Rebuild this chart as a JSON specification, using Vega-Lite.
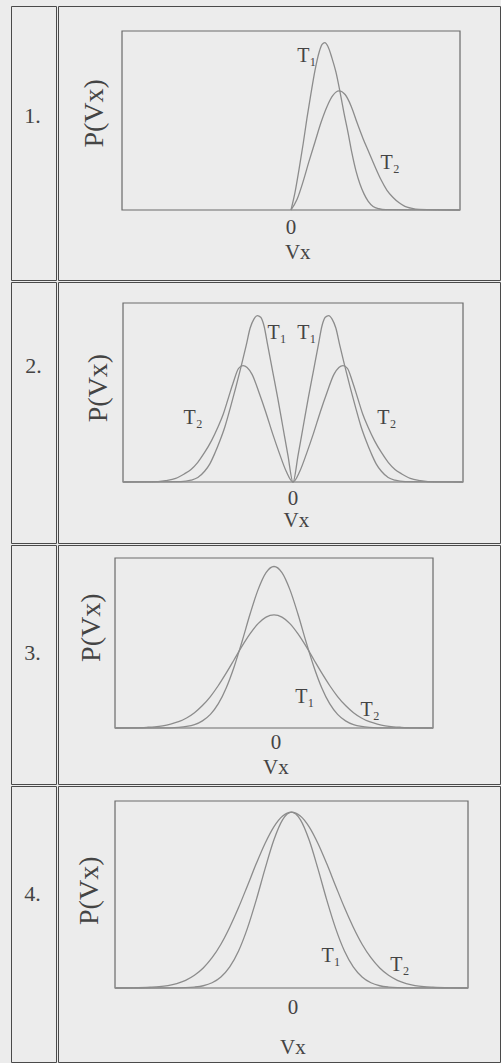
{
  "$schema": "https://vega.github.io/schema/vega-lite/v6.json",
  "background": "#ececec",
  "padding": {"left": 10, "top": 5, "right": 0, "bottom": 0},
  "spacing": 0,
  "config": {
    "view": {"stroke": "#4a4a4a", "strokeWidth": 1},
    "concat": {"spacing": 0},
    "text": {"font": "Liberation Serif, DejaVu Serif, serif", "color": "#444444"}
  },
  "datasets": {
    "r1": [
      {"s":"T1","v":0,"p":0},{"s":"T1","v":0.12,"p":0.1},{"s":"T1","v":0.24,"p":0.23},{"s":"T1","v":0.36,"p":0.37},{"s":"T1","v":0.47,"p":0.51},{"s":"T1","v":0.59,"p":0.65},{"s":"T1","v":0.71,"p":0.78},{"s":"T1","v":0.83,"p":0.88},{"s":"T1","v":0.92,"p":0.925},{"s":"T1","v":1.0,"p":0.935},{"s":"T1","v":1.09,"p":0.915},{"s":"T1","v":1.21,"p":0.85},{"s":"T1","v":1.33,"p":0.77},{"s":"T1","v":1.45,"p":0.66},{"s":"T1","v":1.57,"p":0.54},{"s":"T1","v":1.69,"p":0.43},{"s":"T1","v":1.8,"p":0.32},{"s":"T1","v":1.92,"p":0.22},{"s":"T1","v":2.04,"p":0.145},{"s":"T1","v":2.16,"p":0.09},{"s":"T1","v":2.28,"p":0.05},{"s":"T1","v":2.43,"p":0.02},{"s":"T1","v":2.6,"p":0.007},{"s":"T1","v":2.8,"p":0.002},{"s":"T1","v":5,"p":0},
      {"s":"T2","v":0,"p":0},{"s":"T2","v":0.18,"p":0.06},{"s":"T2","v":0.36,"p":0.16},{"s":"T2","v":0.53,"p":0.27},{"s":"T2","v":0.71,"p":0.38},{"s":"T2","v":0.89,"p":0.49},{"s":"T2","v":1.07,"p":0.58},{"s":"T2","v":1.24,"p":0.64},{"s":"T2","v":1.42,"p":0.665},{"s":"T2","v":1.6,"p":0.645},{"s":"T2","v":1.78,"p":0.58},{"s":"T2","v":1.95,"p":0.49},{"s":"T2","v":2.13,"p":0.4},{"s":"T2","v":2.31,"p":0.32},{"s":"T2","v":2.49,"p":0.24},{"s":"T2","v":2.66,"p":0.17},{"s":"T2","v":2.84,"p":0.11},{"s":"T2","v":3.02,"p":0.07},{"s":"T2","v":3.2,"p":0.04},{"s":"T2","v":3.37,"p":0.02},{"s":"T2","v":3.55,"p":0.01},{"s":"T2","v":3.79,"p":0.003},{"s":"T2","v":5,"p":0}
    ],
    "r2": [
      {"s":"T1","v":-5,"p":0},{"s":"T1","v":-3.3,"p":0.002},{"s":"T1","v":-3.0,"p":0.01},{"s":"T1","v":-2.8,"p":0.025},{"s":"T1","v":-2.6,"p":0.06},{"s":"T1","v":-2.45,"p":0.1},{"s":"T1","v":-2.3,"p":0.16},{"s":"T1","v":-2.15,"p":0.23},{"s":"T1","v":-2.0,"p":0.31},{"s":"T1","v":-1.85,"p":0.41},{"s":"T1","v":-1.68,"p":0.53},{"s":"T1","v":-1.52,"p":0.65},{"s":"T1","v":-1.38,"p":0.76},{"s":"T1","v":-1.26,"p":0.86},{"s":"T1","v":-1.15,"p":0.91},{"s":"T1","v":-1.05,"p":0.93},{"s":"T1","v":-0.95,"p":0.92},{"s":"T1","v":-0.85,"p":0.87},{"s":"T1","v":-0.75,"p":0.77},{"s":"T1","v":-0.6,"p":0.62},{"s":"T1","v":-0.45,"p":0.47},{"s":"T1","v":-0.3,"p":0.31},{"s":"T1","v":-0.15,"p":0.15},
      {"s":"T1","v":0,"p":0},{"s":"T1","v":0.15,"p":0.15},{"s":"T1","v":0.3,"p":0.31},{"s":"T1","v":0.45,"p":0.47},{"s":"T1","v":0.6,"p":0.62},{"s":"T1","v":0.75,"p":0.77},{"s":"T1","v":0.85,"p":0.87},{"s":"T1","v":0.95,"p":0.92},{"s":"T1","v":1.05,"p":0.93},{"s":"T1","v":1.15,"p":0.91},{"s":"T1","v":1.26,"p":0.86},{"s":"T1","v":1.38,"p":0.76},{"s":"T1","v":1.52,"p":0.65},{"s":"T1","v":1.68,"p":0.53},{"s":"T1","v":1.85,"p":0.41},{"s":"T1","v":2.0,"p":0.31},{"s":"T1","v":2.15,"p":0.23},{"s":"T1","v":2.3,"p":0.16},{"s":"T1","v":2.45,"p":0.1},{"s":"T1","v":2.6,"p":0.06},{"s":"T1","v":2.8,"p":0.025},{"s":"T1","v":3.0,"p":0.01},{"s":"T1","v":3.3,"p":0.002},{"s":"T1","v":5,"p":0},
      {"s":"T2","v":-5,"p":0},{"s":"T2","v":-4.2,"p":0.001},{"s":"T2","v":-3.75,"p":0.008},{"s":"T2","v":-3.45,"p":0.02},{"s":"T2","v":-3.2,"p":0.045},{"s":"T2","v":-3.0,"p":0.07},{"s":"T2","v":-2.8,"p":0.11},{"s":"T2","v":-2.6,"p":0.165},{"s":"T2","v":-2.4,"p":0.23},{"s":"T2","v":-2.2,"p":0.31},{"s":"T2","v":-2.05,"p":0.38},{"s":"T2","v":-1.9,"p":0.47},{"s":"T2","v":-1.75,"p":0.56},{"s":"T2","v":-1.6,"p":0.635},{"s":"T2","v":-1.47,"p":0.65},{"s":"T2","v":-1.35,"p":0.64},{"s":"T2","v":-1.2,"p":0.6},{"s":"T2","v":-1.0,"p":0.5},{"s":"T2","v":-0.8,"p":0.39},{"s":"T2","v":-0.6,"p":0.27},{"s":"T2","v":-0.4,"p":0.16},{"s":"T2","v":-0.2,"p":0.06},
      {"s":"T2","v":0,"p":0},{"s":"T2","v":0.2,"p":0.06},{"s":"T2","v":0.4,"p":0.16},{"s":"T2","v":0.6,"p":0.27},{"s":"T2","v":0.8,"p":0.39},{"s":"T2","v":1.0,"p":0.5},{"s":"T2","v":1.2,"p":0.6},{"s":"T2","v":1.35,"p":0.64},{"s":"T2","v":1.47,"p":0.65},{"s":"T2","v":1.6,"p":0.635},{"s":"T2","v":1.75,"p":0.56},{"s":"T2","v":1.9,"p":0.47},{"s":"T2","v":2.05,"p":0.38},{"s":"T2","v":2.2,"p":0.31},{"s":"T2","v":2.4,"p":0.23},{"s":"T2","v":2.6,"p":0.165},{"s":"T2","v":2.8,"p":0.11},{"s":"T2","v":3.0,"p":0.07},{"s":"T2","v":3.2,"p":0.045},{"s":"T2","v":3.45,"p":0.02},{"s":"T2","v":3.75,"p":0.008},{"s":"T2","v":4.2,"p":0.001},{"s":"T2","v":5,"p":0}
    ],
    "r3": [
      {"s":"T1","v":-5,"p":0},{"s":"T1","v":-3.5,"p":0.0005},{"s":"T1","v":-3,"p":0.004},{"s":"T1","v":-2.75,"p":0.009},{"s":"T1","v":-2.5,"p":0.02},{"s":"T1","v":-2.25,"p":0.042},{"s":"T1","v":-2,"p":0.08},{"s":"T1","v":-1.75,"p":0.143},{"s":"T1","v":-1.5,"p":0.237},{"s":"T1","v":-1.25,"p":0.362},{"s":"T1","v":-1,"p":0.512},{"s":"T1","v":-0.75,"p":0.672},{"s":"T1","v":-0.5,"p":0.814},{"s":"T1","v":-0.25,"p":0.914},{"s":"T1","v":0,"p":0.95},
      {"s":"T1","v":0.25,"p":0.914},{"s":"T1","v":0.5,"p":0.814},{"s":"T1","v":0.75,"p":0.672},{"s":"T1","v":1,"p":0.512},{"s":"T1","v":1.25,"p":0.362},{"s":"T1","v":1.5,"p":0.237},{"s":"T1","v":1.75,"p":0.143},{"s":"T1","v":2,"p":0.08},{"s":"T1","v":2.25,"p":0.042},{"s":"T1","v":2.5,"p":0.02},{"s":"T1","v":2.75,"p":0.009},{"s":"T1","v":3,"p":0.004},{"s":"T1","v":3.5,"p":0.0005},{"s":"T1","v":5,"p":0},
      {"s":"T2","v":-5,"p":0},{"s":"T2","v":-4.5,"p":0.001},{"s":"T2","v":-4,"p":0.004},{"s":"T2","v":-3.75,"p":0.007},{"s":"T2","v":-3.5,"p":0.013},{"s":"T2","v":-3.25,"p":0.023},{"s":"T2","v":-3,"p":0.037},{"s":"T2","v":-2.75,"p":0.059},{"s":"T2","v":-2.5,"p":0.09},{"s":"T2","v":-2.25,"p":0.132},{"s":"T2","v":-2,"p":0.185},{"s":"T2","v":-1.75,"p":0.25},{"s":"T2","v":-1.5,"p":0.324},{"s":"T2","v":-1.25,"p":0.403},{"s":"T2","v":-1,"p":0.483},{"s":"T2","v":-0.75,"p":0.555},{"s":"T2","v":-0.5,"p":0.614},{"s":"T2","v":-0.25,"p":0.652},{"s":"T2","v":0,"p":0.665},
      {"s":"T2","v":0.25,"p":0.652},{"s":"T2","v":0.5,"p":0.614},{"s":"T2","v":0.75,"p":0.555},{"s":"T2","v":1,"p":0.483},{"s":"T2","v":1.25,"p":0.403},{"s":"T2","v":1.5,"p":0.324},{"s":"T2","v":1.75,"p":0.25},{"s":"T2","v":2,"p":0.185},{"s":"T2","v":2.25,"p":0.132},{"s":"T2","v":2.5,"p":0.09},{"s":"T2","v":2.75,"p":0.059},{"s":"T2","v":3,"p":0.037},{"s":"T2","v":3.25,"p":0.023},{"s":"T2","v":3.5,"p":0.013},{"s":"T2","v":3.75,"p":0.007},{"s":"T2","v":4,"p":0.004},{"s":"T2","v":4.5,"p":0.001},{"s":"T2","v":5,"p":0}
    ],
    "r4": [
      {"s":"T1","v":-5,"p":0},{"s":"T1","v":-3.5,"p":0.0002},{"s":"T1","v":-3,"p":0.002},{"s":"T1","v":-2.75,"p":0.005},{"s":"T1","v":-2.5,"p":0.012},{"s":"T1","v":-2.25,"p":0.028},{"s":"T1","v":-2,"p":0.059},{"s":"T1","v":-1.75,"p":0.113},{"s":"T1","v":-1.5,"p":0.198},{"s":"T1","v":-1.25,"p":0.319},{"s":"T1","v":-1,"p":0.47},{"s":"T1","v":-0.75,"p":0.637},{"s":"T1","v":-0.5,"p":0.791},{"s":"T1","v":-0.25,"p":0.9},{"s":"T1","v":0,"p":0.94},
      {"s":"T1","v":0.25,"p":0.9},{"s":"T1","v":0.5,"p":0.791},{"s":"T1","v":0.75,"p":0.637},{"s":"T1","v":1,"p":0.47},{"s":"T1","v":1.25,"p":0.319},{"s":"T1","v":1.5,"p":0.198},{"s":"T1","v":1.75,"p":0.113},{"s":"T1","v":2,"p":0.059},{"s":"T1","v":2.25,"p":0.028},{"s":"T1","v":2.5,"p":0.012},{"s":"T1","v":2.75,"p":0.005},{"s":"T1","v":3,"p":0.002},{"s":"T1","v":3.5,"p":0.0002},{"s":"T1","v":5,"p":0},
      {"s":"T2","v":-5,"p":0},{"s":"T2","v":-4.5,"p":0.001},{"s":"T2","v":-4,"p":0.004},{"s":"T2","v":-3.75,"p":0.007},{"s":"T2","v":-3.5,"p":0.013},{"s":"T2","v":-3.25,"p":0.024},{"s":"T2","v":-3,"p":0.041},{"s":"T2","v":-2.75,"p":0.068},{"s":"T2","v":-2.5,"p":0.107},{"s":"T2","v":-2.25,"p":0.162},{"s":"T2","v":-2,"p":0.234},{"s":"T2","v":-1.75,"p":0.325},{"s":"T2","v":-1.5,"p":0.43},{"s":"T2","v":-1.25,"p":0.546},{"s":"T2","v":-1,"p":0.664},{"s":"T2","v":-0.75,"p":0.773},{"s":"T2","v":-0.5,"p":0.862},{"s":"T2","v":-0.25,"p":0.92},{"s":"T2","v":0,"p":0.94},
      {"s":"T2","v":0.25,"p":0.92},{"s":"T2","v":0.5,"p":0.862},{"s":"T2","v":0.75,"p":0.773},{"s":"T2","v":1,"p":0.664},{"s":"T2","v":1.25,"p":0.546},{"s":"T2","v":1.5,"p":0.43},{"s":"T2","v":1.75,"p":0.325},{"s":"T2","v":2,"p":0.234},{"s":"T2","v":2.25,"p":0.162},{"s":"T2","v":2.5,"p":0.107},{"s":"T2","v":2.75,"p":0.068},{"s":"T2","v":3,"p":0.041},{"s":"T2","v":3.25,"p":0.024},{"s":"T2","v":3.5,"p":0.013},{"s":"T2","v":3.75,"p":0.007},{"s":"T2","v":4,"p":0.004},{"s":"T2","v":4.5,"p":0.001},{"s":"T2","v":5,"p":0}
    ]
  },
  "vconcat": [
    {
      "spacing": 0,
      "hconcat": [
        {
          "width": 45, "height": 274,
          "data": {"values": [{"label": "1.", "fx": 0.48, "fy": 0.4}]},
          "mark": {"type": "text", "fontSize": 22},
          "encoding": {
            "x": {"field": "fx", "type": "quantitative", "scale": {"domain": [0, 1]}, "axis": null},
            "y": {"field": "fy", "type": "quantitative", "scale": {"domain": [0, 1], "reverse": true}, "axis": null},
            "text": {"field": "label"}
          }
        },
        {
          "width": 442, "height": 274,
          "layer": [
            {
              "data": {"values": [{"v": -5, "v2": 5, "p": 0, "p2": 1}]},
              "mark": {"type": "rect", "fill": null, "stroke": "#6a6a6a", "strokeWidth": 1.2},
              "encoding": {
                "x": {"field": "v", "type": "quantitative", "scale": {"domain": [-5, 5], "range": [64, 402], "nice": false, "zero": false}, "axis": null},
                "x2": {"field": "v2"},
                "y": {"field": "p", "type": "quantitative", "scale": {"domain": [0, 1], "range": [204, 25], "nice": false, "zero": false}, "axis": null},
                "y2": {"field": "p2"}
              }
            },
            {
              "data": {"name": "r1"},
              "mark": {"type": "line", "interpolate": "monotone", "color": "#8c8c8c", "strokeWidth": 1.3},
              "encoding": {
                "x": {"field": "v", "type": "quantitative", "axis": null},
                "y": {"field": "p", "type": "quantitative", "axis": null},
                "detail": {"field": "s"}
              }
            },
            {
              "data": {"values": [{"t": "T₁", "v": 0.47, "p": 0.86}, {"t": "T₂", "v": 2.93, "p": 0.26}]},
              "mark": {"type": "text", "fontSize": 20},
              "encoding": {"x": {"field": "v", "type": "quantitative", "axis": null}, "y": {"field": "p", "type": "quantitative", "axis": null}, "text": {"field": "t"}}
            },
            {
              "data": {"values": [{"t": "0", "v": 0, "p": -0.1}, {"t": "Vx", "v": 0.2, "p": -0.24}]},
              "mark": {"type": "text", "fontSize": 21},
              "encoding": {"x": {"field": "v", "type": "quantitative", "axis": null}, "y": {"field": "p", "type": "quantitative", "axis": null}, "text": {"field": "t"}}
            },
            {
              "data": {"values": [{"t": "P(Vx)", "v": -5.8, "p": 0.54}]},
              "mark": {"type": "text", "fontSize": 28, "angle": 270},
              "encoding": {"x": {"field": "v", "type": "quantitative", "axis": null}, "y": {"field": "p", "type": "quantitative", "axis": null}, "text": {"field": "t"}}
            }
          ]
        }
      ]
    },
    {
      "spacing": 0,
      "hconcat": [
        {
          "width": 45, "height": 261,
          "data": {"values": [{"label": "2.", "fx": 0.5, "fy": 0.32}]},
          "mark": {"type": "text", "fontSize": 22},
          "encoding": {
            "x": {"field": "fx", "type": "quantitative", "scale": {"domain": [0, 1]}, "axis": null},
            "y": {"field": "fy", "type": "quantitative", "scale": {"domain": [0, 1], "reverse": true}, "axis": null},
            "text": {"field": "label"}
          }
        },
        {
          "width": 442, "height": 261,
          "layer": [
            {
              "data": {"values": [{"v": -5, "v2": 5, "p": 0, "p2": 1}]},
              "mark": {"type": "rect", "fill": null, "stroke": "#6a6a6a", "strokeWidth": 1.2},
              "encoding": {
                "x": {"field": "v", "type": "quantitative", "scale": {"domain": [-5, 5], "range": [65, 405], "nice": false, "zero": false}, "axis": null},
                "x2": {"field": "v2"},
                "y": {"field": "p", "type": "quantitative", "scale": {"domain": [0, 1], "range": [200, 21], "nice": false, "zero": false}, "axis": null},
                "y2": {"field": "p2"}
              }
            },
            {
              "data": {"name": "r2"},
              "mark": {"type": "line", "interpolate": "monotone", "color": "#8c8c8c", "strokeWidth": 1.3},
              "encoding": {
                "x": {"field": "v", "type": "quantitative", "axis": null},
                "y": {"field": "p", "type": "quantitative", "axis": null},
                "detail": {"field": "s"}
              }
            },
            {
              "data": {"values": [{"t": "T₁", "v": -0.47, "p": 0.83}, {"t": "T₁", "v": 0.41, "p": 0.83}, {"t": "T₂", "v": -2.94, "p": 0.36}, {"t": "T₂", "v": 2.76, "p": 0.36}]},
              "mark": {"type": "text", "fontSize": 20},
              "encoding": {"x": {"field": "v", "type": "quantitative", "axis": null}, "y": {"field": "p", "type": "quantitative", "axis": null}, "text": {"field": "t"}}
            },
            {
              "data": {"values": [{"t": "0", "v": 0, "p": -0.095}, {"t": "Vx", "v": 0.1, "p": -0.22}]},
              "mark": {"type": "text", "fontSize": 21},
              "encoding": {"x": {"field": "v", "type": "quantitative", "axis": null}, "y": {"field": "p", "type": "quantitative", "axis": null}, "text": {"field": "t"}}
            },
            {
              "data": {"values": [{"t": "P(Vx)", "v": -5.7, "p": 0.525}]},
              "mark": {"type": "text", "fontSize": 28, "angle": 270},
              "encoding": {"x": {"field": "v", "type": "quantitative", "axis": null}, "y": {"field": "p", "type": "quantitative", "axis": null}, "text": {"field": "t"}}
            }
          ]
        }
      ]
    },
    {
      "spacing": 0,
      "hconcat": [
        {
          "width": 45, "height": 239,
          "data": {"values": [{"label": "3.", "fx": 0.48, "fy": 0.45}]},
          "mark": {"type": "text", "fontSize": 22},
          "encoding": {
            "x": {"field": "fx", "type": "quantitative", "scale": {"domain": [0, 1]}, "axis": null},
            "y": {"field": "fy", "type": "quantitative", "scale": {"domain": [0, 1], "reverse": true}, "axis": null},
            "text": {"field": "label"}
          }
        },
        {
          "width": 442, "height": 239,
          "layer": [
            {
              "data": {"values": [{"v": -5, "v2": 5, "p": 0, "p2": 1}]},
              "mark": {"type": "rect", "fill": null, "stroke": "#6a6a6a", "strokeWidth": 1.2},
              "encoding": {
                "x": {"field": "v", "type": "quantitative", "scale": {"domain": [-5, 5], "range": [57, 375], "nice": false, "zero": false}, "axis": null},
                "x2": {"field": "v2"},
                "y": {"field": "p", "type": "quantitative", "scale": {"domain": [0, 1], "range": [183, 13], "nice": false, "zero": false}, "axis": null},
                "y2": {"field": "p2"}
              }
            },
            {
              "data": {"name": "r3"},
              "mark": {"type": "line", "interpolate": "monotone", "color": "#8c8c8c", "strokeWidth": 1.3},
              "encoding": {
                "x": {"field": "v", "type": "quantitative", "axis": null},
                "y": {"field": "p", "type": "quantitative", "axis": null},
                "detail": {"field": "s"}
              }
            },
            {
              "data": {"values": [{"t": "T₁", "v": 0.97, "p": 0.18}, {"t": "T₂", "v": 3.02, "p": 0.106}]},
              "mark": {"type": "text", "fontSize": 20},
              "encoding": {"x": {"field": "v", "type": "quantitative", "axis": null}, "y": {"field": "p", "type": "quantitative", "axis": null}, "text": {"field": "t"}}
            },
            {
              "data": {"values": [{"t": "0", "v": 0.06, "p": -0.088}, {"t": "Vx", "v": 0.06, "p": -0.235}]},
              "mark": {"type": "text", "fontSize": 21},
              "encoding": {"x": {"field": "v", "type": "quantitative", "axis": null}, "y": {"field": "p", "type": "quantitative", "axis": null}, "text": {"field": "t"}}
            },
            {
              "data": {"values": [{"t": "P(Vx)", "v": -5.72, "p": 0.59}]},
              "mark": {"type": "text", "fontSize": 28, "angle": 270},
              "encoding": {"x": {"field": "v", "type": "quantitative", "axis": null}, "y": {"field": "p", "type": "quantitative", "axis": null}, "text": {"field": "t"}}
            }
          ]
        }
      ]
    },
    {
      "spacing": 0,
      "hconcat": [
        {
          "width": 45, "height": 276,
          "data": {"values": [{"label": "4.", "fx": 0.48, "fy": 0.39}]},
          "mark": {"type": "text", "fontSize": 22},
          "encoding": {
            "x": {"field": "fx", "type": "quantitative", "scale": {"domain": [0, 1]}, "axis": null},
            "y": {"field": "fy", "type": "quantitative", "scale": {"domain": [0, 1], "reverse": true}, "axis": null},
            "text": {"field": "label"}
          }
        },
        {
          "width": 442, "height": 276,
          "layer": [
            {
              "data": {"values": [{"v": -5, "v2": 5, "p": 0, "p2": 1}]},
              "mark": {"type": "rect", "fill": null, "stroke": "#6a6a6a", "strokeWidth": 1.2},
              "encoding": {
                "x": {"field": "v", "type": "quantitative", "scale": {"domain": [-5, 5], "range": [57, 410], "nice": false, "zero": false}, "axis": null},
                "x2": {"field": "v2"},
                "y": {"field": "p", "type": "quantitative", "scale": {"domain": [0, 1], "range": [202, 15], "nice": false, "zero": false}, "axis": null},
                "y2": {"field": "p2"}
              }
            },
            {
              "data": {"name": "r4"},
              "mark": {"type": "line", "interpolate": "monotone", "color": "#8c8c8c", "strokeWidth": 1.3},
              "encoding": {
                "x": {"field": "v", "type": "quantitative", "axis": null},
                "y": {"field": "p", "type": "quantitative", "axis": null},
                "detail": {"field": "s"}
              }
            },
            {
              "data": {"values": [{"t": "T₁", "v": 1.12, "p": 0.17}, {"t": "T₂", "v": 3.07, "p": 0.123}]},
              "mark": {"type": "text", "fontSize": 20},
              "encoding": {"x": {"field": "v", "type": "quantitative", "axis": null}, "y": {"field": "p", "type": "quantitative", "axis": null}, "text": {"field": "t"}}
            },
            {
              "data": {"values": [{"t": "0", "v": 0.04, "p": -0.107}, {"t": "Vx", "v": 0.04, "p": -0.32}]},
              "mark": {"type": "text", "fontSize": 21},
              "encoding": {"x": {"field": "v", "type": "quantitative", "axis": null}, "y": {"field": "p", "type": "quantitative", "axis": null}, "text": {"field": "t"}}
            },
            {
              "data": {"values": [{"t": "P(Vx)", "v": -5.71, "p": 0.52}]},
              "mark": {"type": "text", "fontSize": 28, "angle": 270},
              "encoding": {"x": {"field": "v", "type": "quantitative", "axis": null}, "y": {"field": "p", "type": "quantitative", "axis": null}, "text": {"field": "t"}}
            }
          ]
        }
      ]
    }
  ]
}
